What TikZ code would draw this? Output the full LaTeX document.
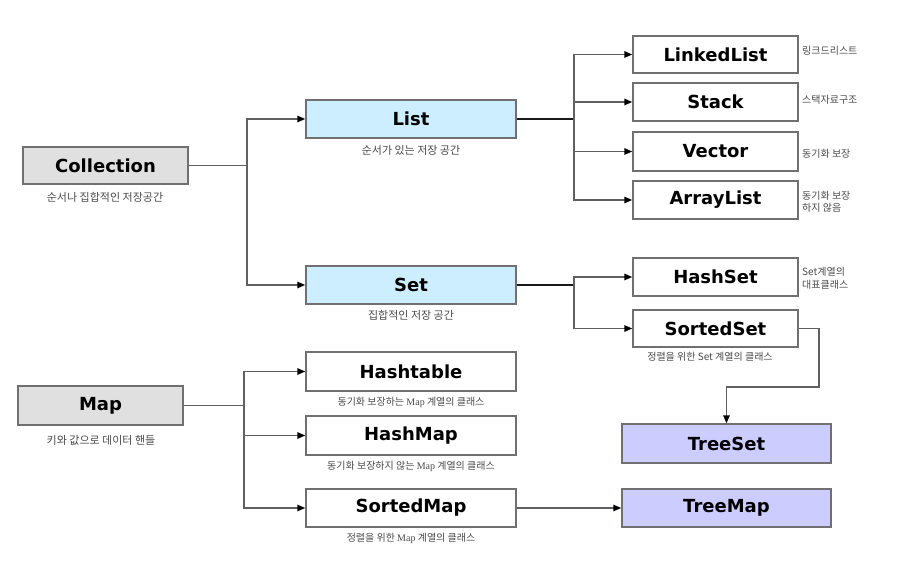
\documentclass[tikz,border=0pt]{standalone}
\usepackage{fontspec}
\setmainfont{DejaVu Sans}
\newfontfamily\kr{Noto Sans CJK KR}
\newfontfamily\mapf{Liberation Serif}
\usetikzlibrary{arrows.meta}
\definecolor{boxline}{HTML}{707070}
\definecolor{linegray}{HTML}{606060}
\definecolor{greyfill}{HTML}{E0E0E0}
\definecolor{bluefill}{HTML}{CCEEFF}
\definecolor{purplefill}{HTML}{CCCCFF}
\definecolor{lblgray}{HTML}{4A4A4A}
\begin{document}
\begin{tikzpicture}[x=1pt,y=-1pt,
  box/.style={draw=boxline, line width=1.5pt, inner sep=0pt, text=black,
    font=\bfseries\fontsize{18}{20}\selectfont, minimum height=38pt},
  wide/.style={box, minimum width=210pt},
  narrow/.style={box, minimum width=165pt},
  lbl/.style={font=\kr\fontsize{11}{12}\selectfont, text=lblgray, inner sep=0pt},
  smlbl/.style={lbl, font=\kr\fontsize{10}{12}\selectfont},
  sidelbl/.style={font=\kr\fontsize{10}{12.5}\selectfont, text=lblgray, inner sep=0pt, anchor=west, align=left},
  conn/.style={draw=linegray, line width=1.5pt},
  arr/.style={conn, -{Triangle[length=8pt,width=6.5pt,color=black]}}
]
\useasboundingbox (0,0) rectangle (897,584);

% main boxes
\node[narrow, fill=greyfill, minimum height=37pt] (coll) at (105.5,165.5) {Collection};
\node[narrow, fill=greyfill, minimum height=39pt] (map) at (100.5,405.5) {Map};
\node[wide, fill=bluefill] (list) at (411,119) {List};
\node[wide, fill=bluefill] (set) at (411,285) {Set};

\node[narrow, fill=white, minimum height=37pt] (ll) at (715.5,54.5) {LinkedList};
\node[narrow, fill=white] (stack) at (715.5,102) {Stack};
\node[narrow, fill=white, minimum height=39pt] (vec) at (715.5,151.5) {Vector};
\node[narrow, fill=white] (al) at (715.5,200) {ArrayList};
\node[narrow, fill=white] (hset) at (715.5,277) {HashSet};
\node[narrow, fill=white, minimum height=37pt] (sset) at (715.5,328.5) {SortedSet};

\node[box, fill=purplefill, minimum width=209pt, minimum height=39pt] (tset) at (726.5,443.5) {TreeSet};
\node[box, fill=purplefill, minimum width=209pt] (tmap) at (726.5,508) {TreeMap};

\node[wide, fill=white, minimum height=39pt] (htab) at (411,371.5) {Hashtable};
\node[wide, fill=white, minimum height=39pt] (hmap) at (411,435.5) {HashMap};
\node[wide, fill=white] (smap) at (411,508) {SortedMap};

% labels
\node[lbl] (lcoll) at (105,197) {순서나 집합적인 저장공간};
\node[lbl] (lmap) at (101,440) {키와 값으로 데이터 핸들};
\node[lbl] (llist) at (411,150) {순서가 있는 저장 공간};
\node[lbl] (lset) at (411,315) {집합적인 저장 공간};
\node[smlbl] (lsset) at (710,357) {정렬을 위한 Set 계열의 클래스};
\node[smlbl] (lhtab) at (411,402) {동기화 보장하는 {\mapf Map} 계열의 클래스};
\node[smlbl] (lhmap) at (411,466) {동기화 보장하지 않는 {\mapf Map} 계열의 클래스};
\node[smlbl] (lsmap) at (411,538) {정렬을 위한 {\mapf Map} 계열의 클래스};

\node[sidelbl] (lll) at (802,51) {링크드리스트};
\node[sidelbl] (lstack) at (802,100) {스택자료구조};
\node[sidelbl] (lvec) at (802,154) {동기화 보장};
\node[sidelbl] (lal) at (802,202) {동기화 보장\\하지 않음};
\node[sidelbl] (lhset) at (802,278) {Set계열의\\대표클래스};

% junction coordinates
\coordinate (j1) at (247,0);
\coordinate (j2) at (574,0);
\coordinate (j3) at (244,0);
\coordinate (bend) at (819,387);

% connectors
\draw[conn] (coll.east) -- (coll.east -| j1);
\draw[arr] (coll.east -| j1) |- (list.west);
\draw[arr] (coll.east -| j1) |- (set.west);

\draw[conn, draw=black!90] (list.east) -- (list.east -| j2);
\draw[arr] (list.east -| j2) |- (ll.west);
\draw[arr] (list.east -| j2) |- (stack.west);
\draw[arr] (list.east -| j2) |- (vec.west);
\draw[arr] (list.east -| j2) |- (al.west);

\draw[conn, draw=black!90] (set.east) -- (set.east -| j2);
\draw[arr] (set.east -| j2) |- (hset.west);
\draw[arr] (set.east -| j2) |- (sset.west);

\draw[arr] (sset.east) -| (bend) -| (tset.north);

\draw[conn] (map.east) -- (map.east -| j3);
\draw[arr] (map.east -| j3) |- (htab.west);
\draw[arr] (map.east -| j3) |- (hmap.west);
\draw[arr] (map.east -| j3) |- (smap.west);

\draw[arr] (smap.east) -- (tmap.west);
\end{tikzpicture}
\end{document}
